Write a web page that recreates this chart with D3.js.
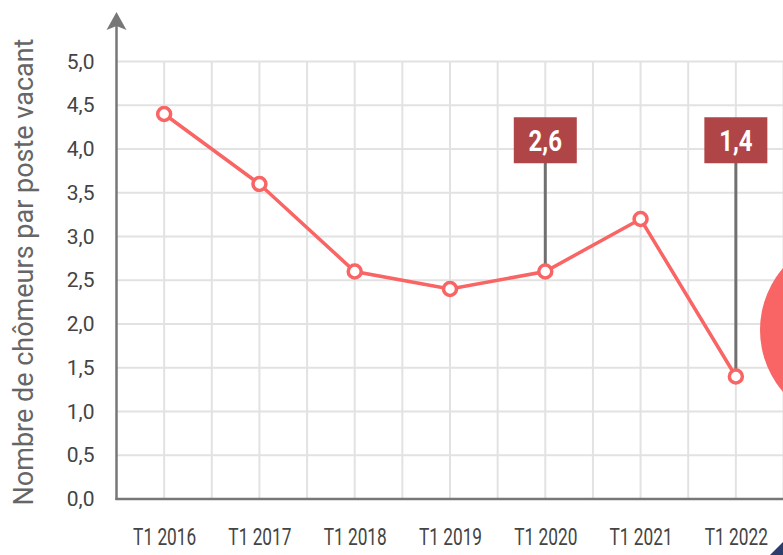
<!DOCTYPE html>
<html>
<head>
<meta charset="utf-8">
<script src="https://cdn.jsdelivr.net/npm/d3@7"></script>
<style>
  body { margin: 0; background: #fff; }
  svg { display: block; font-family: Roboto, "Noto Sans", sans-serif; }
</style>
</head>
<body>
<div class="visHolder"></div>
<script>
// données
const categories = ["T1 2016", "T1 2017", "T1 2018", "T1 2019", "T1 2020", "T1 2021", "T1 2022"];
const values = [4.4, 3.6, 2.6, 2.4, 2.6, 3.2, 1.4];
const yTicks = [0, 0.5, 1, 1.5, 2, 2.5, 3, 3.5, 4, 4.5, 5];
const annotations = [
  { cat: "T1 2020", value: 2.6, labelY: 4.1 },
  { cat: "T1 2022", value: 1.4, labelY: 4.1 }
];

const w = 783;
const h = 555;
const padLeft = 116.5;
const padBottom = 499;
const padTop = 61.5;

const fmt = v => d3.format(".1f")(v).replace(".", ",");

const xScale = d3.scaleLinear()
                 .domain([-0.5, categories.length - 0.5])
                 .range([padLeft, w + 0.5]);

const yScale = d3.scaleLinear()
                 .domain([0, 5])
                 .range([padBottom, padTop]);

const svg = d3.select(".visHolder")
              .append("svg")
              .attr("width", w)
              .attr("height", h);

// grille horizontale
svg.append("g")
   .selectAll("line")
   .data(yTicks.filter(d => d > 0))
   .enter()
   .append("line")
   .attr("x1", padLeft)
   .attr("x2", w)
   .attr("y1", d => yScale(d))
   .attr("y2", d => yScale(d))
   .attr("stroke", "#e2e2e2")
   .attr("stroke-width", 2);

// grille verticale (catégories + milieux)
const vGrid = d3.range(0, categories.length, 0.5);
svg.append("g")
   .selectAll("line")
   .data(vGrid)
   .enter()
   .append("line")
   .attr("x1", d => xScale(d))
   .attr("x2", d => xScale(d))
   .attr("y1", yScale(5))
   .attr("y2", padBottom)
   .attr("stroke", "#e2e2e2")
   .attr("stroke-width", 2);

// décor : grand disque à droite, triangle en bas
svg.append("circle")
   .attr("cx", 855)
   .attr("cy", 330)
   .attr("r", 95)
   .attr("fill", "#f96464");

svg.append("path")
   .attr("d", "M770,555 L783,542 L783,555 Z")
   .attr("fill", "#2c3d6b");

// axe Y
const yAxis = d3.axisLeft(yScale)
                .tickValues(yTicks)
                .tickFormat(fmt)
                .tickSize(0)
                .tickPadding(22);

const gy = svg.append("g")
   .attr("transform", "translate(" + padLeft + ",0)")
   .call(yAxis);
gy.select(".domain").remove();
gy.selectAll("text")
  .attr("font-size", 21)
  .attr("font-family", "Roboto")
  .attr("fill", "#444");

svg.append("line")
   .attr("x1", padLeft)
   .attr("x2", padLeft)
   .attr("y1", padBottom + 1)
   .attr("y2", 26)
   .attr("stroke", "#777")
   .attr("stroke-width", 2.5);

svg.append("path")
   .attr("d", "M" + padLeft + ",12 L" + (padLeft + 10) + ",30 L" + padLeft + ",26 L" + (padLeft - 10) + ",30 Z")
   .attr("fill", "#777");

// axe X
const xAxis = d3.axisBottom(xScale)
                .tickValues(d3.range(categories.length))
                .tickFormat(i => categories[i])
                .tickSize(0)
                .tickPadding(29);

const gx = svg.append("g")
   .attr("transform", "translate(0," + padBottom + ")")
   .call(xAxis);
gx.select(".domain").remove();
gx.selectAll("text")
  .attr("font-size", 24)
  .attr("font-family", "Roboto")
  .attr("fill", "#444")
  .attr("transform", "scale(0.72,1)");

svg.append("line")
   .attr("x1", padLeft - 1)
   .attr("x2", w)
   .attr("y1", padBottom)
   .attr("y2", padBottom)
   .attr("stroke", "#777")
   .attr("stroke-width", 2.5);

// titre de l'axe Y
svg.append("text")
   .attr("transform", "translate(33,272) rotate(-90)")
   .attr("text-anchor", "middle")
   .attr("font-size", 27)
   .attr("fill", "#666")
   .text("Nombre de chômeurs par poste vacant");

// annotations : tiges
svg.append("g")
   .selectAll("line")
   .data(annotations)
   .enter()
   .append("line")
   .attr("x1", d => xScale(categories.indexOf(d.cat)))
   .attr("x2", d => xScale(categories.indexOf(d.cat)))
   .attr("y1", d => yScale(d.labelY))
   .attr("y2", d => yScale(d.value))
   .attr("stroke", "#707070")
   .attr("stroke-width", 3);

// ligne
const line = d3.line()
               .x((d, i) => xScale(i))
               .y(d => yScale(d));

svg.append("path")
   .datum(values)
   .attr("d", line)
   .attr("fill", "none")
   .attr("stroke", "#f96464")
   .attr("stroke-width", 3.5);

svg.selectAll(".pt")
   .data(values)
   .enter()
   .append("circle")
   .attr("class", "pt")
   .attr("cx", (d, i) => xScale(i))
   .attr("cy", d => yScale(d))
   .attr("r", 6.5)
   .attr("fill", "#fff")
   .attr("stroke", "#f96464")
   .attr("stroke-width", 3.5);

// annotations : étiquettes
const lab = svg.append("g")
   .selectAll("g")
   .data(annotations)
   .enter()
   .append("g")
   .attr("transform", d => "translate(" + xScale(categories.indexOf(d.cat)) + "," + yScale(d.labelY) + ")");

lab.append("rect")
   .attr("x", -31.5)
   .attr("y", -23)
   .attr("width", 63)
   .attr("height", 46)
   .attr("fill", "#b04547");

lab.append("text")
   .attr("transform", "scale(0.8,1)")
   .attr("text-anchor", "middle")
   .attr("dy", "0.36em")
   .attr("font-size", 30)
   .attr("font-weight", "bold")
   .attr("fill", "#fff")
   .text(d => fmt(d.value));
</script>
</body>
</html>
